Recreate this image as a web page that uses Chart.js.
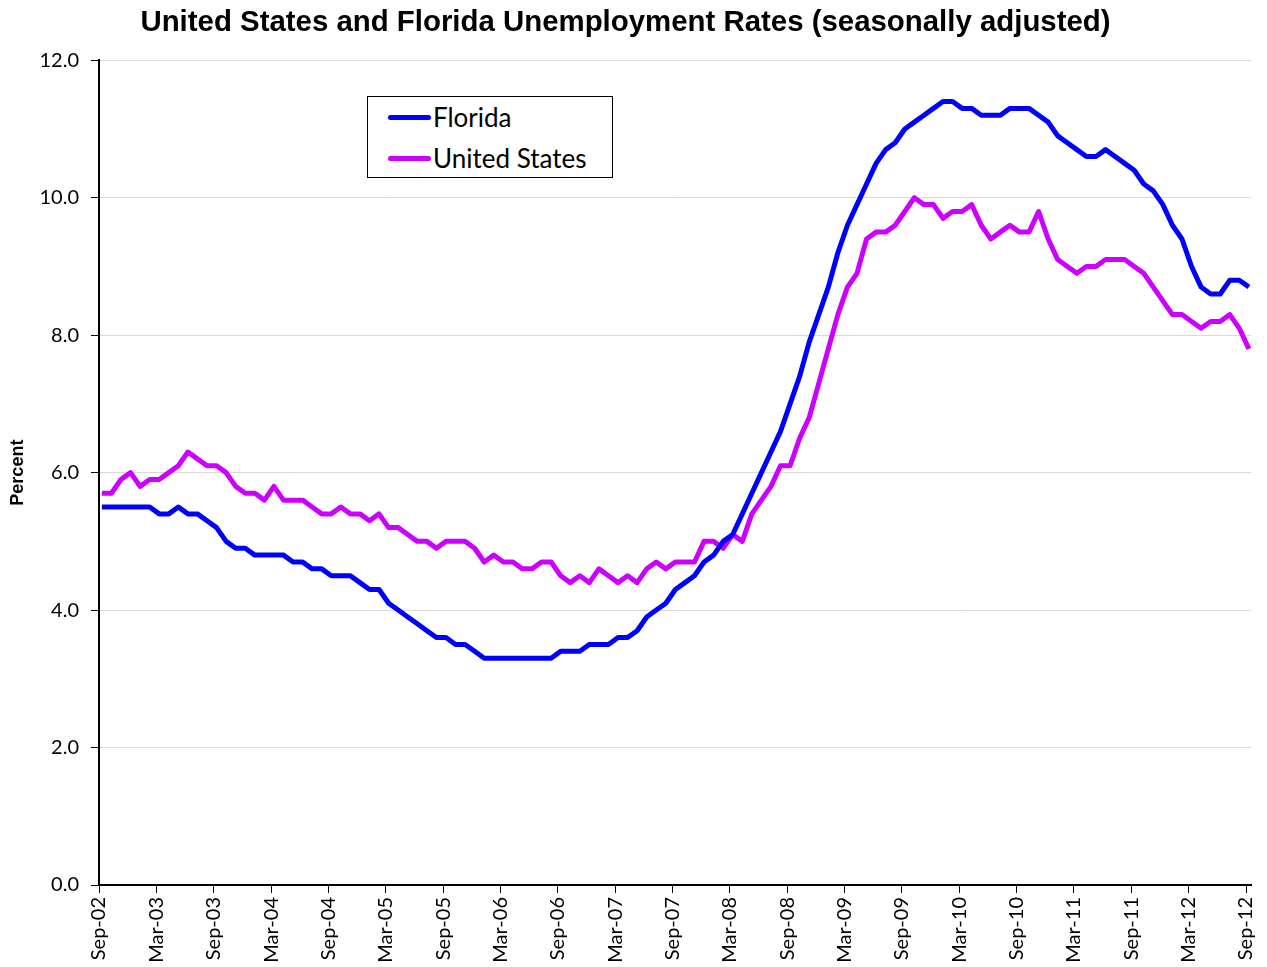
<!DOCTYPE html>
<html>
<head>
<meta charset="utf-8">
<title>United States and Florida Unemployment Rates</title>
<script src="https://cdn.jsdelivr.net/npm/chart.js@4.4.1/dist/chart.umd.min.js"></script>
<style>
  html, body { margin: 0; padding: 0; background: #fff; }
  #wrap { position: relative; width: 1267px; height: 967px; }
  #legend {
    position: absolute; left: 367px; top: 96px; width: 244px; height: 80px;
    border: 1px solid #000; background: #fff;
    font-family: Lato, "Noto Sans", sans-serif; font-size: 26px; color: #000;
  }
  .row { position: absolute; left: 20px; height: 30px; display: flex; align-items: center; white-space: nowrap; }
  .swatch { width: 43px; height: 5px; border-radius: 3px; margin-right: 2px; }
</style>
</head>
<body>
<div id="wrap">
  <canvas id="chart" width="1267" height="967"></canvas>
  <div id="legend"></div>
</div>
<script>
// tick labels on the x axis, one every 6 months (Sep-02 .. Sep-12)
const tickLabels = ['Sep-02', 'Mar-03', 'Sep-03', 'Mar-04', 'Sep-04', 'Mar-05', 'Sep-05',
    'Mar-06', 'Sep-06', 'Mar-07', 'Sep-07', 'Mar-08', 'Sep-08', 'Mar-09', 'Sep-09',
    'Mar-10', 'Sep-10', 'Mar-11', 'Sep-11', 'Mar-12', 'Sep-12'];

// monthly rates, Sep 2002 to Sep 2012
const florida = [
    5.5, 5.5, 5.5, 5.5,
    5.5, 5.5, 5.4, 5.4, 5.5, 5.4, 5.4, 5.3, 5.2, 5.0, 4.9, 4.9,
    4.8, 4.8, 4.8, 4.8, 4.7, 4.7, 4.6, 4.6, 4.5, 4.5, 4.5, 4.4,
    4.3, 4.3, 4.1, 4.0, 3.9, 3.8, 3.7, 3.6, 3.6, 3.5, 3.5, 3.4,
    3.3, 3.3, 3.3, 3.3, 3.3, 3.3, 3.3, 3.3, 3.4, 3.4, 3.4, 3.5,
    3.5, 3.5, 3.6, 3.6, 3.7, 3.9, 4.0, 4.1, 4.3, 4.4, 4.5, 4.7,
    4.8, 5.0, 5.1, 5.4, 5.7, 6.0, 6.3, 6.6, 7.0, 7.4, 7.9, 8.3,
    8.7, 9.2, 9.6, 9.9, 10.2, 10.5, 10.7, 10.8, 11.0, 11.1, 11.2, 11.3,
    11.4, 11.4, 11.3, 11.3, 11.2, 11.2, 11.2, 11.3, 11.3, 11.3, 11.2, 11.1,
    10.9, 10.8, 10.7, 10.6, 10.6, 10.7, 10.6, 10.5, 10.4, 10.2, 10.1, 9.9,
    9.6, 9.4, 9.0, 8.7, 8.6, 8.6, 8.8, 8.8, 8.7
];

const unitedStates = [
    5.7, 5.7, 5.9, 6.0,
    5.8, 5.9, 5.9, 6.0, 6.1, 6.3, 6.2, 6.1, 6.1, 6.0, 5.8, 5.7,
    5.7, 5.6, 5.8, 5.6, 5.6, 5.6, 5.5, 5.4, 5.4, 5.5, 5.4, 5.4,
    5.3, 5.4, 5.2, 5.2, 5.1, 5.0, 5.0, 4.9, 5.0, 5.0, 5.0, 4.9,
    4.7, 4.8, 4.7, 4.7, 4.6, 4.6, 4.7, 4.7, 4.5, 4.4, 4.5, 4.4,
    4.6, 4.5, 4.4, 4.5, 4.4, 4.6, 4.7, 4.6, 4.7, 4.7, 4.7, 5.0,
    5.0, 4.9, 5.1, 5.0, 5.4, 5.6, 5.8, 6.1, 6.1, 6.5, 6.8, 7.3,
    7.8, 8.3, 8.7, 8.9, 9.4, 9.5, 9.5, 9.6, 9.8, 10.0, 9.9, 9.9,
    9.7, 9.8, 9.8, 9.9, 9.6, 9.4, 9.5, 9.6, 9.5, 9.5, 9.8, 9.4,
    9.1, 9.0, 8.9, 9.0, 9.0, 9.1, 9.1, 9.1, 9.0, 8.9, 8.7, 8.5,
    8.3, 8.3, 8.2, 8.1, 8.2, 8.2, 8.3, 8.1, 7.8
];

const toPoints = arr => arr.map((v, i) => ({ x: i, y: v }));

// Excel puts the monthly points a little to the right of the date ticks
const tickShift = 0.3;
const tickFont = { family: 'Lato', size: 20 };

const ctx = document.getElementById('chart').getContext('2d');
const chart = new Chart(ctx, {
    type: 'line',
    data: {
        datasets: [{
            label: 'Florida',
            data: toPoints(florida),
            borderColor: '#0000ff',
            borderWidth: 5,
            borderJoinStyle: 'round',
            pointRadius: 0,
            fill: false,
            tension: 0
        }, {
            label: 'United States',
            data: toPoints(unitedStates),
            borderColor: '#cc00ff',
            borderWidth: 5,
            borderJoinStyle: 'round',
            pointRadius: 0,
            fill: false,
            tension: 0
        }]
    },
    options: {
        responsive: false,
        animation: false,
        layout: { padding: { left: 0, right: 16, top: 0, bottom: 0 } },
        plugins: {
            legend: { display: false },
            tooltip: { enabled: false },
            title: {
                display: true,
                text: 'United States and Florida Unemployment Rates (seasonally adjusted)',
                color: '#000',
                font: { family: 'Liberation Sans', size: 29.4, weight: 'bold' },
                padding: { top: 5, bottom: 20 }
            }
        },
        scales: {
            x: {
                type: 'linear',
                min: -tickShift,
                max: 120.22,
                afterBuildTicks: scale => {
                    scale.ticks = tickLabels.map((_, i) => ({ value: i * 6 - tickShift }));
                },
                afterFit: scale => {
                    scale.height = 82;
                    scale.paddingLeft = 0;
                    scale.paddingRight = 0;
                },
                grid: { drawOnChartArea: false, tickLength: 8, tickColor: '#000' },
                border: { color: '#000', width: 2 },
                ticks: {
                    autoSkip: false,
                    minRotation: 90,
                    maxRotation: 90,
                    padding: 4,
                    color: '#000',
                    font: tickFont,
                    callback: v => tickLabels[Math.round((v + tickShift) / 6)]
                }
            },
            y: {
                min: 0,
                max: 12,
                afterFit: scale => { scale.width = 99; },
                grid: {
                    color: c => (c.tick && c.tick.value === 0) ? 'rgba(0,0,0,0)' : '#d9d9d9',
                    tickColor: '#000',
                    tickLength: 8
                },
                border: { color: '#000', width: 2 },
                ticks: {
                    stepSize: 2,
                    padding: 12,
                    color: '#000',
                    font: tickFont,
                    callback: v => v.toFixed(1)
                },
                title: {
                    display: true,
                    text: 'Percent',
                    color: '#000',
                    font: { family: 'Liberation Sans', size: 18, weight: 'bold' },
                    padding: { top: 7, bottom: 0 }
                }
            }
        }
    }
});

// legend box inside the plot, built from the datasets
const legend = document.getElementById('legend');
chart.data.datasets.forEach((ds, i) => {
    const row = document.createElement('div');
    row.className = 'row';
    row.style.top = (5 + i * 41) + 'px';
    const sw = document.createElement('span');
    sw.className = 'swatch';
    sw.style.background = ds.borderColor;
    const txt = document.createElement('span');
    txt.textContent = ds.label;
    row.appendChild(sw);
    row.appendChild(txt);
    legend.appendChild(row);
});
</script>
</body>
</html>
